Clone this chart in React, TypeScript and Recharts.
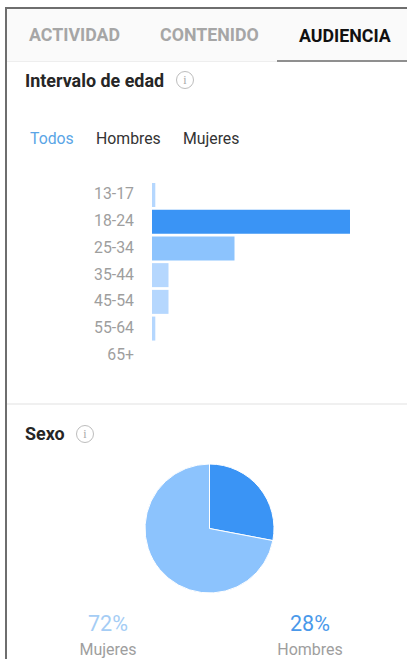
import React from "react";
import { BarChart, Bar, XAxis, YAxis, Cell, PieChart, Pie } from "recharts";

const tabs = ["ACTIVIDAD", "CONTENIDO", "AUDIENCIA"];
const filters = ["Todos", "Hombres", "Mujeres"];
const ageRanges = ["13-17", "18-24", "25-34", "35-44", "45-54", "55-64", "65+"];
const ageShares = [1, 60, 25, 5, 5, 1, 0];
const ageColors = ["#b5d7fe", "#3a94f5", "#8cc3fd", "#b5d7fe", "#b5d7fe", "#b5d7fe", "#b5d7fe"];
const genders = ["Hombres", "Mujeres"];
const genderShares = [28, 72];
const genderColors = ["#3a94f5", "#8cc3fd"];

const ageData = ageRanges.map((range, i) => ({ range, share: ageShares[i] }));
const genderData = genders.map((name, i) => ({ name, share: genderShares[i] }));

const FONT = "Roboto, sans-serif";

function Text(props: { x: number; y: number; size: number; color: string; bold?: boolean; center?: boolean; children: React.ReactNode }) {
  const { x, y, size, color, bold, center, children } = props;
  return (
    <div
      style={{
        position: "absolute",
        left: x,
        top: y,
        fontSize: size,
        lineHeight: "18px",
        height: 18,
        color,
        fontWeight: bold ? 700 : 400,
        whiteSpace: "nowrap",
        transform: center ? "translateX(-50%)" : undefined,
      }}
    >
      {children}
    </div>
  );
}

function InfoIcon({ x, y }: { x: number; y: number }) {
  return (
    <svg style={{ position: "absolute", left: x - 10, top: y - 10 }} width={20} height={20}>
      <circle cx={10} cy={10} r={8.5} fill="none" stroke="#bdbdbd" strokeWidth={1} />
      <text x={10} y={14} textAnchor="middle" fontSize={12} fontFamily="'Liberation Serif', serif" fill="#a8a8a8">
        i
      </text>
    </svg>
  );
}

export default function App() {
  return (
    <div style={{ position: "absolute", left: 0, top: 0, width: 407, height: 659, background: "#fff", overflow: "hidden", fontFamily: FONT }}>
      {/* Phone frame edges */}
      <div style={{ position: "absolute", left: 5, top: 7, width: 402, height: 2, background: "#6e6e6e" }} />
      <div style={{ position: "absolute", left: 5, top: 7, width: 2, height: 652, background: "#6e6e6e" }} />

      {/* Tab strip */}
      <div style={{ position: "absolute", left: 7, top: 9, width: 400, height: 52, background: "#fafafa", borderBottom: "1px solid #eeeeee" }} />
      <div style={{ position: "absolute", left: 277, top: 60, width: 130, height: 2, background: "#8f8f8f" }} />
      <Text x={29} y={26} size={17.8} color="#a6a6a6" bold>{tabs[0]}</Text>
      <Text x={160} y={26} size={17.8} color="#a6a6a6" bold>{tabs[1]}</Text>
      <Text x={299} y={27} size={17.8} color="#111111" bold>{tabs[2]}</Text>

      {/* Age range section */}
      <Text x={25} y={72} size={17.9} color="#262626" bold>Intervalo de edad</Text>
      <InfoIcon x={185} y={80} />
      <Text x={30} y={130} size={15.8} color="#5aa5e6">{filters[0]}</Text>
      <Text x={96} y={130} size={15.8} color="#333333">{filters[1]}</Text>
      <Text x={183} y={130} size={15.8} color="#333333">{filters[2]}</Text>

      <div style={{ position: "absolute", left: 0, top: 182 }}>
        <BarChart width={407} height={187} data={ageData} layout="vertical" margin={{ top: 0, right: 57, bottom: 0, left: 0 }} barSize={24}>
          <XAxis type="number" domain={[0, 60]} hide />
          <YAxis
            type="category"
            dataKey="range"
            width={152}
            axisLine={false}
            tickLine={false}
            tickMargin={12}
            interval={0}
            tick={{ fontSize: 15.8, fill: "#9e9e9e", fontFamily: FONT, dy: -1.5 }}
          />
          <Bar dataKey="share" isAnimationActive={false}>
            {ageData.map((d, i) => (
              <Cell key={d.range} fill={ageColors[i]} />
            ))}
          </Bar>
        </BarChart>
      </div>

      <div style={{ position: "absolute", left: 7, top: 403, width: 400, height: 2, background: "#f0f0f0" }} />

      {/* Gender section */}
      <Text x={25} y={425} size={17.9} color="#262626" bold>Sexo</Text>
      <InfoIcon x={85} y={434} />

      <div style={{ position: "absolute", left: 139, top: 458 }}>
        <PieChart width={141} height={141} margin={{ top: 0, right: 0, bottom: 0, left: 0 }}>
          <Pie
            data={genderData}
            dataKey="share"
            nameKey="name"
            cx={70.5}
            cy={70.5}
            outerRadius={64.5}
            startAngle={90}
            endAngle={-270}
            stroke="#ffffff"
            strokeWidth={1}
            isAnimationActive={false}
          >
            {genderData.map((d, i) => (
              <Cell key={d.name} fill={genderColors[i]} />
            ))}
          </Pie>
        </PieChart>
      </div>

      <Text x={108} y={615} size={21.5} color="#a5cdf5" center>{genderShares[1]}%</Text>
      <Text x={108} y={641} size={16} color="#9e9e9e" center>{genders[1]}</Text>
      <Text x={310} y={615} size={21.5} color="#4a99ea" center>{genderShares[0]}%</Text>
      <Text x={310} y={641} size={16} color="#9e9e9e" center>{genders[0]}</Text>
    </div>
  );
}
